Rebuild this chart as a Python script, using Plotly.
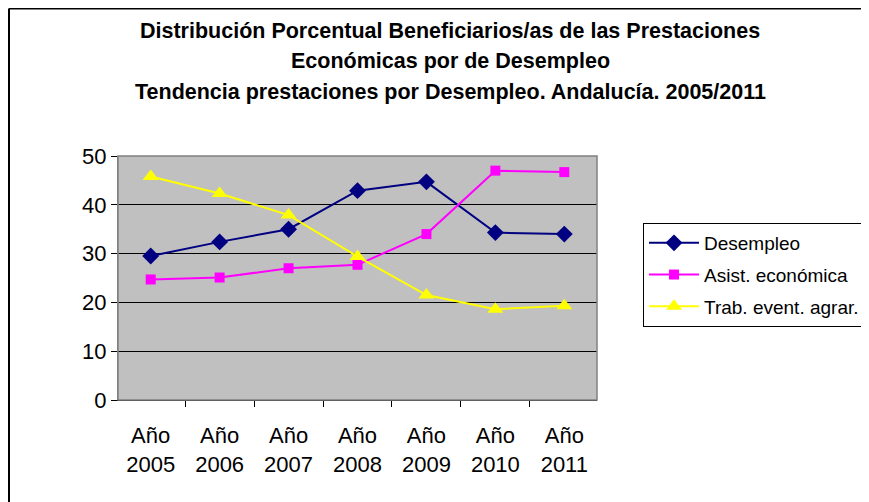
import plotly.graph_objects as go

years = ["2005", "2006", "2007", "2008", "2009", "2010", "2011"]
categories = ["Año<br>" + y for y in years]
desempleo = [29.5, 32.4, 35.0, 42.9, 44.7, 34.3, 34.0]
asist = [24.7, 25.1, 27.0, 27.7, 34.0, 47.0, 46.7]
trab = [45.8, 42.3, 37.9, 29.4, 21.5, 18.6, 19.3]
y_ticks = [0, 10, 20, 30, 40, 50]
title_lines = [
    "Distribución Porcentual Beneficiarios/as de las Prestaciones",
    "Económicas por de Desempleo",
    "Tendencia prestaciones por Desempleo. Andalucía. 2005/2011",
]

FONT = "Liberation Sans, Arial, sans-serif"
OFF = 8  # default page body margin
W, H = 869 - OFF, 502 - OFF
L, R, T, B = 118 - OFF, 597 - OFF, 156 - OFF, 400 - OFF
pw, ph = R - L, B - T

def px_x(x):
    return (x - OFF - L) / pw

def px_y(y):
    return (B - (y - OFF)) / ph

fig = go.Figure()
fig.add_trace(go.Scatter(x=categories, y=desempleo, name="Desempleo", mode="lines+markers",
                         line=dict(color="#000080", width=2),
                         marker=dict(symbol="diamond", size=13, color="#000080"),
                         legendgroup="a"))
fig.add_trace(go.Scatter(x=categories, y=asist, name="Asist. económica", mode="lines+markers",
                         line=dict(color="#FF00FF", width=2),
                         marker=dict(symbol="square", size=10, color="#FF00FF"),
                         legendgroup="b"))
fig.add_trace(go.Scatter(x=categories, y=trab, name="Trab. event. agrar.", mode="lines+markers",
                         line=dict(color="#FFFF00", width=2),
                         marker=dict(symbol="triangle-up", size=14, color="#FFFF00"),
                         legendgroup="c"))

annotations = []
for txt, yc in zip(title_lines, [31, 61, 92]):
    annotations.append(dict(text="<b>" + txt + "</b>", xref="paper", yref="paper",
                            x=px_x(450), y=px_y(yc), xanchor="center", yanchor="middle",
                            showarrow=False, font=dict(family=FONT, size=21.5, color="black")))

shapes = [
    dict(type="rect", xref="paper", yref="paper", x0=0, x1=1, y0=0, y1=1,
         line=dict(color="#808080", width=1.5), layer="above"),
    dict(type="line", xref="paper", yref="paper", x0=px_x(9), x1=px_x(9), y0=px_y(8.5), y1=px_y(520),
         line=dict(color="black", width=2)),
    dict(type="line", xref="paper", yref="paper", x0=px_x(9), x1=px_x(900), y0=px_y(8.5), y1=px_y(8.5),
         line=dict(color="black", width=2)),
]

fig.update_layout(
    width=W, height=H,
    margin=dict(l=L, r=W - R, t=T, b=H - B, autoexpand=False),
    paper_bgcolor="white", plot_bgcolor="#C0C0C0",
    font=dict(family=FONT, color="black"),
    annotations=annotations, shapes=shapes,
    showlegend=True,
    legend=dict(x=px_x(643), y=px_y(223), xanchor="left", yanchor="top",
                bordercolor="black", borderwidth=1, bgcolor="white",
                font=dict(family=FONT, size=19, color="black"),
                tracegroupgap=4, itemwidth=50),
)
fig.update_xaxes(type="category", tickson="boundaries", ticks="outside", ticklen=6,
                 tickcolor="black", showline=True, linecolor="black", linewidth=1,
                 showgrid=False, tickfont=dict(family=FONT, size=22, color="black"),
                 ticklabelstandoff=16, fixedrange=True)
fig.update_yaxes(range=[0, 50], tickvals=y_ticks, ticks="outside", ticklen=6,
                 tickcolor="black", showline=True, linecolor="#808080",
                 showgrid=True, gridcolor="black", gridwidth=1, zeroline=False,
                 tickfont=dict(family=FONT, size=22, color="black"))

fig.write_html("out.html")
